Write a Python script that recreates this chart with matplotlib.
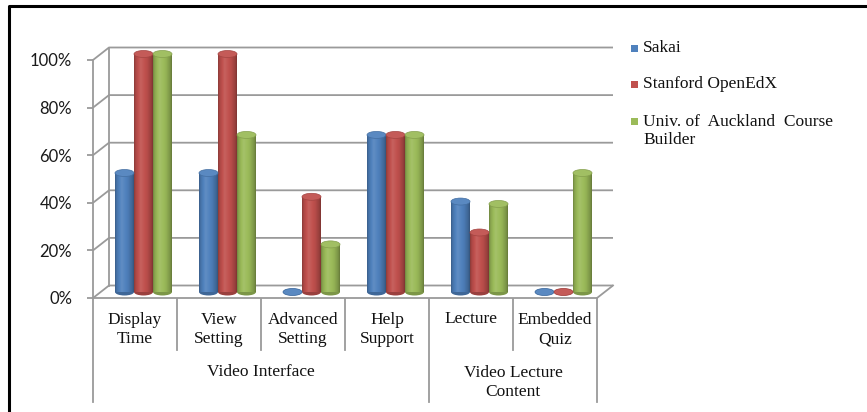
import numpy as np
import matplotlib
matplotlib.use("Agg")
import matplotlib.pyplot as plt
from matplotlib.patches import Ellipse, Rectangle
from matplotlib.lines import Line2D
import matplotlib.transforms as mtrans
import matplotlib.colors as mcolors

# ---------------- data ----------------
categories = ["Display\nTime", "View\nSetting", "Advanced\nSetting", "Help\nSupport",
              "Lecture", "Embedded\nQuiz"]
groups = ["Video Interface", "Video Lecture\nContent"]
group_sizes = [4, 2]
series_names = ["Sakai", "Stanford OpenEdX", "Univ. of  Auckland  Course\nBuilder"]
sakai = [50, 50, 0, 66, 38, 0]
stanford = [100, 100, 40, 66, 25, 0]
auckland = [100, 66, 20, 66, 37, 50]
series_values = [sakai, stanford, auckland]
series_colors = ["#4F81BD", "#C0504D", "#9BBB59"]
yticks = [0, 20, 40, 60, 80, 100]
ytick_labels = ["0%", "20%", "40%", "60%", "80%", "100%"]

# ---------------- figure ----------------
W, H = 867, 412
fig = plt.figure(figsize=(W / 100, H / 100), dpi=100)
fig.patch.set_facecolor("white")

def fx(px):
    return px / W

def fy(py):
    return 1 - py / H

x0px, x1px, y0px, y1px = 93, 597, 298, 60
ax = fig.add_axes([fx(x0px), fy(y0px), (x1px - x0px) / W, (y0px - y1px) / H])
ax.set_xlim(0, len(categories))
ax.set_ylim(0, 100)
ax.set_facecolor("none")

pxx = (x1px - x0px) / len(categories)   # px per x unit
pxy = (y0px - y1px) / 100.0             # px per y unit
dxb, dyb = 16 / pxx, 12.5 / pxy          # back-wall depth offset
dxm, dym = 8.5 / pxx, 6 / pxy            # bar (mid depth) offset

grid_c = "#9A9A9A"
lw = 1.3

# back wall grid lines + depth diagonals
for v in yticks:
    ax.plot([0, dxb, len(categories) + dxb], [v, v + dyb, v + dyb],
            color=grid_c, lw=lw, clip_on=False, zorder=1, solid_capstyle="butt")
ax.plot([dxb, dxb], [dyb, 100 + dyb], color=grid_c, lw=lw, clip_on=False, zorder=1)
# floor right edge
ax.plot([len(categories), len(categories) + dxb], [0, dyb], color=grid_c, lw=lw,
        clip_on=False, zorder=1)

# spines / ticks
for s in ["top", "right"]:
    ax.spines[s].set_visible(False)
for s in ["left", "bottom"]:
    ax.spines[s].set_color(grid_c)
    ax.spines[s].set_linewidth(lw)
    ax.spines[s].set_zorder(1)
ax.set_yticks(yticks)
ax.set_yticklabels(ytick_labels, fontfamily="Lato", fontsize=12, color="#1a1a1a")
ax.tick_params(axis="y", length=4, color=grid_c, width=lw, pad=11)
ax.set_xticks([])

# ---------------- cylinders ----------------
def shade(color, f):
    r, g, b = mcolors.to_rgb(color)
    if f >= 1:
        t = f - 1
        return (r + (1 - r) * t, g + (1 - g) * t, b + (1 - b) * t)
    return (r * f, g * f, b * f)

prof_x = np.linspace(0, 1, 64)
prof = np.interp(prof_x, [0, 0.08, 0.35, 0.7, 0.92, 1.0], [0.72, 0.88, 1.1, 0.95, 0.78, 0.65])

bw = 19 / pxx
eh = 7 / pxy
n = len(series_values)
xs = np.arange(len(categories)) + 0.5 + dxm
for si, (vals, col) in enumerate(zip(series_values, series_colors)):
    xpos = xs + (si - (n - 1) / 2) * bw
    img = np.array([[shade(col, f) for f in prof]])
    bars = ax.bar(xpos, vals, width=bw, bottom=dym, color=col, linewidth=0,
                  zorder=3, clip_on=False)
    for xc, v, bar in zip(xpos, vals, bars):
        ax.add_patch(Ellipse((xc, dym), bw, eh, facecolor=shade(col, 0.8),
                             edgecolor="none", zorder=2.9, clip_on=False))
        if v > 0:
            im = ax.imshow(img, extent=[xc - bw / 2, xc + bw / 2, dym, v + dym],
                           aspect="auto", zorder=3.1, interpolation="bilinear")
            im.set_clip_path(bar)
            im.set_clip_on(True)
        ax.add_patch(Ellipse((xc, v + dym), bw, eh, facecolor=shade(col, 1.06),
                             edgecolor=shade(col, 0.85), linewidth=0.5,
                             zorder=3.5, clip_on=False))
ax.set_xlim(0, len(categories))
ax.set_ylim(0, 100)

# ---------------- category axis ----------------
btr = mtrans.blended_transform_factory(ax.transData, fig.transFigure)
serif = "Liberation Serif"
txt_c = "#111111"
bounds = np.cumsum([0] + group_sizes)
for i in range(len(categories) + 1):
    bottom = 402 if i in bounds else 350
    fig.add_artist(Line2D([i, i], [fy(299), fy(bottom)], transform=btr,
                          color=grid_c, lw=lw))
for i, c in enumerate(categories):
    yc = 329.5 if "\n" in c else 319
    ax.text(i + 0.5, fy(yc), c, transform=btr, ha="center", va="center",
            fontfamily=serif, fontsize=12.5, linespacing=1.3, color=txt_c)
for g, (a, b) in zip(groups, zip(bounds[:-1], bounds[1:])):
    yc = 382.5 if "\n" in g else 372
    ax.text((a + b) / 2, fy(yc), g, transform=btr, ha="center", va="center",
            fontfamily=serif, fontsize=12.5, linespacing=1.3, color=txt_c)

# ---------------- legend ----------------
leg_y = [48, 84, 121]
for name, col, y in zip(series_names, series_colors, leg_y):
    fig.add_artist(Rectangle((fx(631), fy(y + 4)), 7 / W, 7 / H, transform=fig.transFigure,
                             facecolor=col, edgecolor="none"))
    yc = y + 10 if "\n" in name else y
    fig.text(fx(643), fy(yc), name, ha="left", va="center",
             fontfamily=serif, fontsize=12.5, linespacing=1.25, color=txt_c)

# ---------------- outer frame ----------------
fig.add_artist(Line2D([fx(8.5), fx(8.5), fx(867)], [fy(412), fy(5.5), fy(5.5)],
                      transform=fig.transFigure, color="black", lw=2.2))

fig.savefig("out.png", dpi=100)
